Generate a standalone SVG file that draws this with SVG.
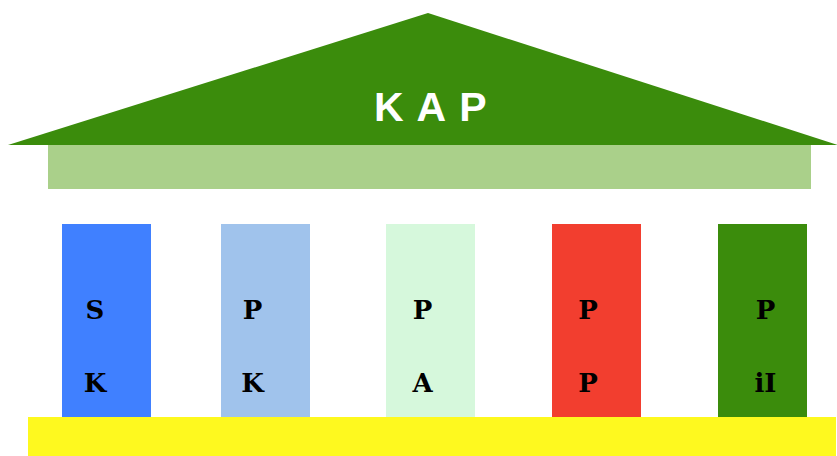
<svg xmlns="http://www.w3.org/2000/svg" width="837" height="456" viewBox="0 0 837 456">
<style>
.lbl{font-family:"DejaVu Serif","Liberation Serif",serif;font-weight:bold;font-size:26px;fill:#000;text-anchor:middle}
.title{font-family:"Liberation Sans",Arial,sans-serif;font-weight:bold;font-size:41px;fill:#fff;letter-spacing:13px}
</style>
<rect width="837" height="456" fill="#fff"/>
<g id="roof">
<polygon points="428,13 8,145 838,145" fill="#3b8c0c"/>
<text class="title" x="374" y="121">KAP</text>
</g>
<g id="beam"><rect x="48" y="145" width="763" height="44" fill="#aad08a"/></g>
<g id="col-sk">
<rect x="62" y="224" width="89" height="194" fill="#4080ff"/>
<text class="lbl" x="95" y="319">S</text><text class="lbl" x="95" y="392">K</text>
</g>
<g id="col-pk">
<rect x="221" y="224" width="89" height="194" fill="#a0c3ec"/>
<text class="lbl" x="252.5" y="319">P</text><text class="lbl" x="252.5" y="392">K</text>
</g>
<g id="col-pa">
<rect x="386" y="224" width="89" height="194" fill="#d6f8dc"/>
<text class="lbl" x="422.5" y="319">P</text><text class="lbl" x="422.5" y="392">A</text>
</g>
<g id="col-pp">
<rect x="552" y="224" width="89" height="194" fill="#f23e2f"/>
<text class="lbl" x="588" y="319">P</text><text class="lbl" x="588" y="392">P</text>
</g>
<g id="col-pii">
<rect x="718" y="224" width="89" height="194" fill="#3b8c0c"/>
<text class="lbl" x="765.5" y="319">P</text><text class="lbl" x="765.5" y="392">iI</text>
</g>
<g id="base"><rect x="28" y="417" width="808" height="39" fill="#fef91f"/></g>
</svg>
